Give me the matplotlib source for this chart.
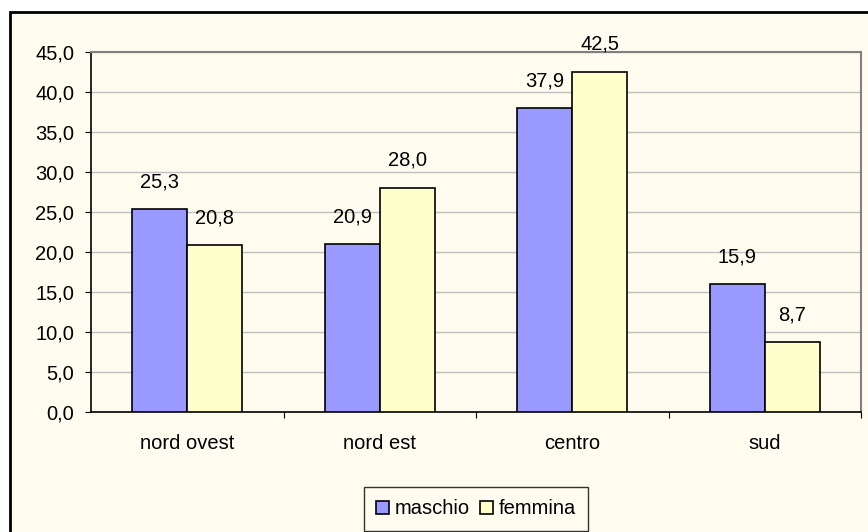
import matplotlib.pyplot as plt
from matplotlib.patches import Rectangle
import numpy as np

# dati
categorie = ['nord ovest', 'nord est', 'centro', 'sud']
maschio = [25.3, 20.9, 37.9, 15.9]
femmina = [20.8, 28.0, 42.5, 8.7]

FS = 14.5
plt.rcParams['font.family'] = ['Liberation Sans', 'DejaVu Sans']
plt.rcParams['font.size'] = FS

W, H = 868, 532
fig = plt.figure(figsize=(W / 100, H / 100), dpi=100)
fig.patch.set_facecolor('white')

# cornice esterna (tagliata a destra e in basso come nell'originale)
fig.patches.append(Rectangle((9.5 / W, -0.05), 1.2, (H - 11.5) / H + 0.05,
                             transform=fig.transFigure, facecolor='#FFFCEF',
                             edgecolor='black', lw=2, zorder=-1))

ax = fig.add_axes([91 / W, (H - 411.7) / H, (861 - 91) / W, (411.7 - 51.5) / H])
ax.set_facecolor('#FFFCEF')

x = np.arange(len(categorie))
bw = 1 / 3.5
b1 = ax.bar(x - bw / 2, maschio, bw, color='#9999FF', edgecolor='black', lw=1.2,
            label='maschio', zorder=3)
b2 = ax.bar(x + bw / 2, femmina, bw, color='#FFFFCC', edgecolor='black', lw=1.2,
            label='femmina', zorder=3)

for bars in (b1, b2):
    for r in bars:
        v = r.get_height()
        ax.annotate(f'{v:.1f}'.replace('.', ','), (r.get_x() + r.get_width() / 2, v),
                    xytext=(0, 19.5), textcoords='offset points', ha='center',
                    va='center', fontsize=FS)

ax.set_xlim(-0.5, 3.5)
ax.set_ylim(0, 45)
ax.set_yticks(np.arange(0, 46, 5))
ax.set_yticklabels([f'{v:.1f}'.replace('.', ',') for v in np.arange(0, 46, 5)])
ax.yaxis.grid(True, color='#C0C0C0', lw=1, zorder=0)

ax.set_xticks([0.5, 1.5, 2.5, 3.5])
ax.set_xticklabels([])
ax.set_xticks(x, minor=True)
ax.set_xticklabels(categorie, minor=True)
ax.tick_params(axis='x', which='minor', length=0, pad=16)
ax.tick_params(axis='x', which='major', length=4, direction='out', color='black')
ax.tick_params(axis='y', length=4, direction='out', pad=8)

for s in ('top', 'right'):
    ax.spines[s].set_color('#808080')
    ax.spines[s].set_linewidth(1.5)
for s in ('left', 'bottom'):
    ax.spines[s].set_color('black')
    ax.spines[s].set_linewidth(1.2)

leg = ax.legend(loc='center', bbox_to_anchor=(476 / W, (H - 509) / H),
                bbox_transform=fig.transFigure, ncol=2, frameon=True, fancybox=False,
                edgecolor='black', handlelength=0.65, handleheight=0.65,
                handletextpad=0.3, columnspacing=0.5, borderpad=0.6, fontsize=FS)
leg.get_frame().set_linewidth(1)
leg.get_frame().set_facecolor('#FFFCEF')

fig.savefig('out.png', dpi=100)
